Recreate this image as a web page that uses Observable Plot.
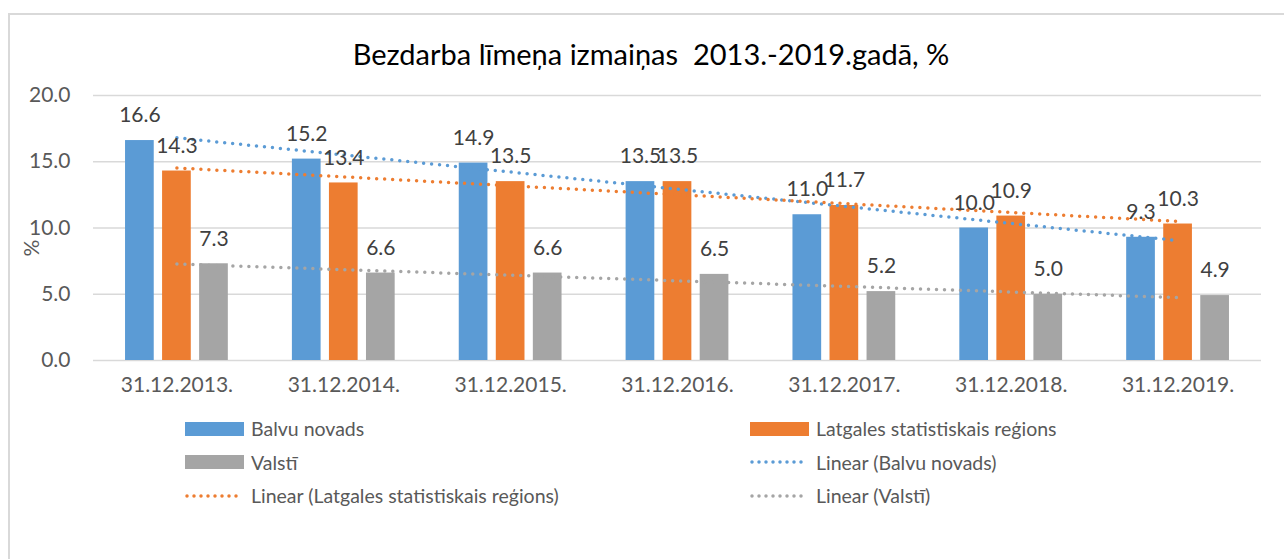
<!DOCTYPE html>
<html>
<head>
<meta charset="utf-8">
<script src="https://cdn.jsdelivr.net/npm/d3@7"></script>
<script src="https://cdn.jsdelivr.net/npm/@observablehq/plot@0.6"></script>
<style>
  html, body { margin: 0; padding: 0; background: #fff; }
  body { width: 1284px; height: 559px; position: relative; overflow: hidden; font-family: Lato, sans-serif; }
  #frame { position: absolute; left: 8px; top: 13px; width: 1300px; height: 600px;
           border-left: 2px solid #d9d9d9; border-top: 2px solid #d9d9d9; }
  #title { position: absolute; left: 0; width: 1302px; top: 37px; line-height: 34px;
           text-align: center; font-size: 29px; color: #000; white-space: pre; }
  #chart { position: absolute; left: 0; top: 78px; }
  #ylabel { position: absolute; left: 30px; top: 248px; transform: translate(-50%, -50%) rotate(-90deg);
            font-size: 21px; color: #595959; }
  #legend { position: absolute; left: 185px; top: 412px; display: grid;
            grid-template-columns: 565px auto; grid-auto-rows: 33.5px; }
  .item { display: flex; align-items: center; font-size: 19.5px; color: #595959; white-space: nowrap; }
  .item svg { margin-right: 7px; flex: none; }
</style>
</head>
<body>
<div id="frame"></div>
<div id="title"></div>
<div id="chart"></div>
<div id="ylabel">%</div>
<div id="legend"></div>
<script>
const titleText = "Bezdarba līmeņa izmaiņas  2013.-2019.gadā, %";
const categories = ["31.12.2013.", "31.12.2014.", "31.12.2015.", "31.12.2016.", "31.12.2017.", "31.12.2018.", "31.12.2019."];
const seriesNames = ["Balvu novads", "Latgales statistiskais reģions", "Valstī"];
const balvu = [16.6, 15.2, 14.9, 13.5, 11.0, 10.0, 9.3];
const latgale = [14.3, 13.4, 13.5, 13.5, 11.7, 10.9, 10.3];
const valsti = [7.3, 6.6, 6.6, 6.5, 5.2, 5.0, 4.9];
const seriesColors = ["#5b9bd5", "#ed7d31", "#a5a5a5"];
const yTicks = [0, 5, 10, 15, 20];
const legendOrder = [
  {kind: "bar", k: 0}, {kind: "bar", k: 1},
  {kind: "bar", k: 2}, {kind: "trend", k: 0},
  {kind: "trend", k: 1}, {kind: "trend", k: 2}
];

document.getElementById("title").textContent = titleText;

const seriesValues = [balvu, latgale, valsti];
const rows = seriesNames.flatMap((s, k) => seriesValues[k].map((v, i) => ({i, k, series: s, value: v})));
const groupStep = 0.222, halfBar = 0.086;
const cx = d => d.i + (d.k - 1) * groupStep;
const fmt = d3.format(".1f");

const chart = Plot.plot({
  width: 1284, height: 327,
  marginLeft: 93, marginRight: 23, marginTop: 17, marginBottom: 45,
  style: {fontFamily: "Lato, sans-serif", fontSize: "21px", color: "#595959", background: "transparent", overflow: "visible"},
  x: {domain: [-0.5, 6.5]},
  y: {domain: [0, 20]},
  color: {domain: seriesNames, range: seriesColors},
  marks: [
    Plot.ruleY(yTicks, {stroke: "#d9d9d9", strokeWidth: 1.5}),
    Plot.rectY(rows, {x1: d => cx(d) - halfBar, x2: d => cx(d) + halfBar, y1: 0, y2: "value", fill: "series"}),
    Plot.linearRegressionY(rows, {x: "i", y: "value", stroke: "series", ci: 0, strokeWidth: 3.5,
      strokeDasharray: "0 8", strokeLinecap: "round"}),
    Plot.text(rows, {x: cx, y: "value", text: d => fmt(d.value), dy: -25, fill: "#404040", fontSize: 21}),
    Plot.axisX(d3.range(categories.length), {tickFormat: i => categories[i], tickSize: 0, tickPadding: 17,
      label: null, fill: "#595959", fontSize: 21}),
    Plot.axisY(yTicks, {tickFormat: fmt, tickSize: 0, tickPadding: 23, label: null, fill: "#595959", fontSize: 21})
  ]
});
document.getElementById("chart").appendChild(chart);

const legend = document.getElementById("legend");
const ns = "http://www.w3.org/2000/svg";
for (const entry of legendOrder) {
  const item = document.createElement("div");
  item.className = "item";
  const sw = document.createElementNS(ns, "svg");
  sw.setAttribute("width", 59); sw.setAttribute("height", 14);
  if (entry.kind === "bar") {
    const r = document.createElementNS(ns, "rect");
    r.setAttribute("width", 59); r.setAttribute("height", 14);
    r.setAttribute("fill", seriesColors[entry.k]);
    sw.appendChild(r);
  } else {
    const l = document.createElementNS(ns, "line");
    l.setAttribute("x1", 2); l.setAttribute("x2", 58); l.setAttribute("y1", 7); l.setAttribute("y2", 7);
    l.setAttribute("stroke", seriesColors[entry.k]); l.setAttribute("stroke-width", 3.5);
    l.setAttribute("stroke-dasharray", "0 7"); l.setAttribute("stroke-linecap", "round");
    sw.appendChild(l);
  }
  item.appendChild(sw);
  const t = document.createElement("span");
  t.textContent = entry.kind === "bar" ? seriesNames[entry.k] : `Linear (${seriesNames[entry.k]})`;
  item.appendChild(t);
  legend.appendChild(item);
}
</script>
</body>
</html>
